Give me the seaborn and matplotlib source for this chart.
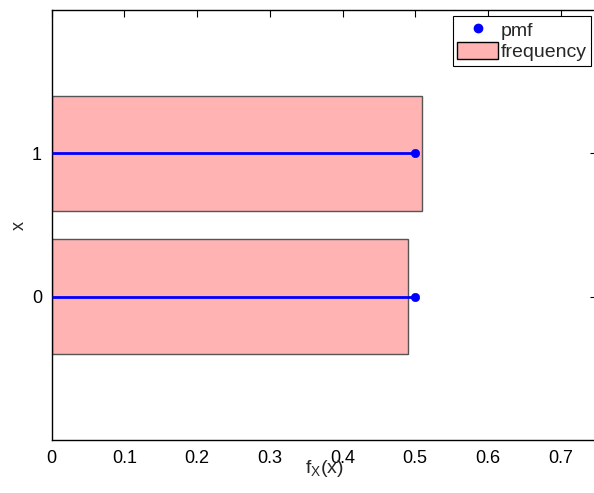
import matplotlib
matplotlib.use('Agg')
import matplotlib.pyplot as plt
import seaborn as sns
import pandas as pd
from matplotlib.lines import Line2D
from matplotlib.patches import Patch

x_vals = [0, 1]
frequency = [0.49, 0.51]
pmf = [0.5, 0.5]
x_ticks = [0, 0.1, 0.2, 0.3, 0.4, 0.5, 0.6, 0.7]
y_ticks = [0, 1]

sns.set_style('white')
plt.rcParams['font.family'] = ['Liberation Sans', 'DejaVu Sans']
plt.rcParams['mathtext.fontset'] = 'custom'
plt.rcParams['mathtext.rm'] = 'Liberation Sans'
plt.rcParams['mathtext.it'] = 'Liberation Sans'

df = pd.DataFrame({'x': x_vals, 'frequency': frequency, 'pmf': pmf})

fig = plt.figure(figsize=(5.94, 4.93), dpi=100)
ax = fig.add_axes([0.087, 0.1075, 0.918, 0.8722])

sns.barplot(data=df, x='frequency', y='x', orient='h', native_scale=True,
            color='#ffb3b3', saturation=1, edgecolor='#555555', linewidth=1, ax=ax)
ax.hlines(df['x'], 0, df['pmf'], color='blue', linewidth=2, zorder=3)
sns.scatterplot(data=df, x='pmf', y='x', color='blue', s=36, edgecolor='blue',
                zorder=4, ax=ax)

ax.set_xlim(0, 0.75)
ax.set_ylim(-1, 2)
ax.set_xticks(x_ticks)
ax.set_xticklabels([str(t) if t else '0' for t in x_ticks])
ax.set_yticks(y_ticks)
ax.tick_params(direction='in', top=True, right=True, length=5, width=0.8,
               labelsize=13, colors='black', pad=7)
for s in ax.spines.values():
    s.set_color('black')
    s.set_linewidth(1)

ax.set_xlabel('$\\mathregular{f_X(x)}$', fontsize=14, labelpad=-6)
ax.set_ylabel('x', fontsize=13, labelpad=3)

handles = [Line2D([], [], marker='o', color='blue', linestyle='none', markersize=6),
           Patch(facecolor='#ffb3b3', edgecolor='black')]
leg = ax.legend(handles, ['pmf', 'frequency'], loc='upper right', fancybox=False,
                edgecolor='black', framealpha=1, borderpad=0.25, handletextpad=0.1,
                labelspacing=0.1, handlelength=2.1, handleheight=1.0,
                borderaxespad=0.3, fontsize=14)
leg.get_frame().set_linewidth(0.8)

fig.savefig('out.png', dpi=100)
